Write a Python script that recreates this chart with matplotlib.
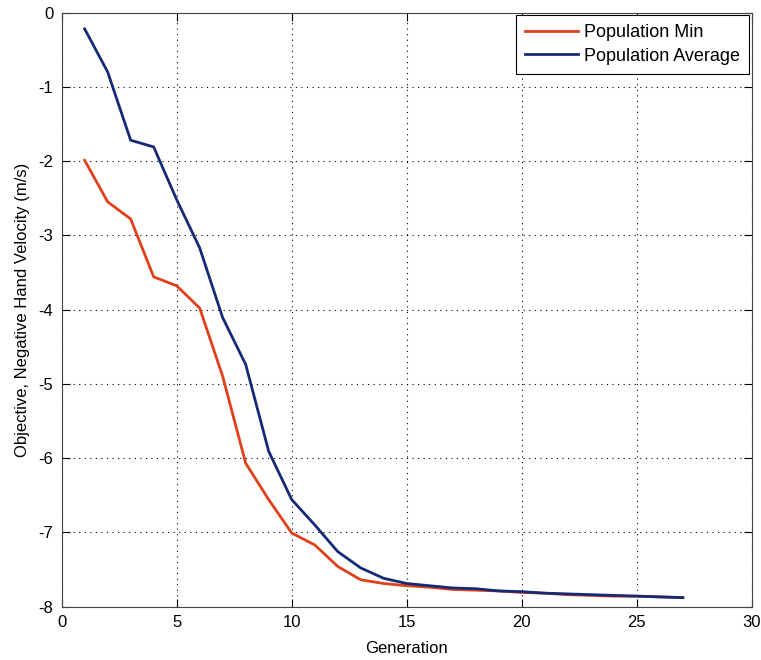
import matplotlib.pyplot as plt
import numpy as np

# generation index and objective values
generation = list(range(1, 28))
pop_min = [-1.99, -2.55, -2.78, -3.56, -3.68, -3.98, -4.90, -6.07, -6.56, -7.01,
           -7.17, -7.46, -7.64, -7.69, -7.72, -7.74, -7.77, -7.78, -7.79, -7.81,
           -7.82, -7.84, -7.85, -7.86, -7.86, -7.87, -7.88]
pop_avg = [-0.22, -0.80, -1.72, -1.81, -2.52, -3.17, -4.11, -4.74, -5.91, -6.56,
           -6.90, -7.26, -7.48, -7.62, -7.69, -7.72, -7.75, -7.76, -7.79, -7.80,
           -7.82, -7.83, -7.84, -7.85, -7.86, -7.87, -7.88]

plt.rcParams['font.family'] = ['Liberation Sans', 'DejaVu Sans']
plt.rcParams['axes.unicode_minus'] = False

fig = plt.figure(figsize=(7.61, 6.60), dpi=100)
ax = fig.add_axes([0.081, 0.081, 0.907, 0.900])

ax.plot(generation, pop_min, color='#e2401a', linewidth=2, label='Population Min')
ax.plot(generation, pop_avg, color='#152a74', linewidth=2, label='Population Average')

ax.set_xlim(0, 30)
ax.set_ylim(-8, 0)
ax.set_xticks(np.arange(0, 31, 5))
ax.set_yticks(np.arange(-8, 1, 1))
ax.grid(True, color='black', linestyle=(0, (1, 4)), linewidth=0.8)
ax.tick_params(direction='in', top=True, right=True, labelsize=12, length=6, pad=6)
for s in ax.spines.values():
    s.set_color('#444444')

ax.set_xlabel('Generation', fontsize=12, labelpad=8)
ax.set_ylabel('Objective, Negative Hand Velocity (m/s)', fontsize=12, labelpad=6)

leg = ax.legend(loc='upper right', fontsize=13, fancybox=False, edgecolor='black',
                framealpha=1, borderaxespad=0.15, borderpad=0.5, handlelength=2.9,
                handletextpad=0.35, labelspacing=0.35)
leg.get_frame().set_linewidth(0.8)

fig.savefig('out.png', dpi=100)
